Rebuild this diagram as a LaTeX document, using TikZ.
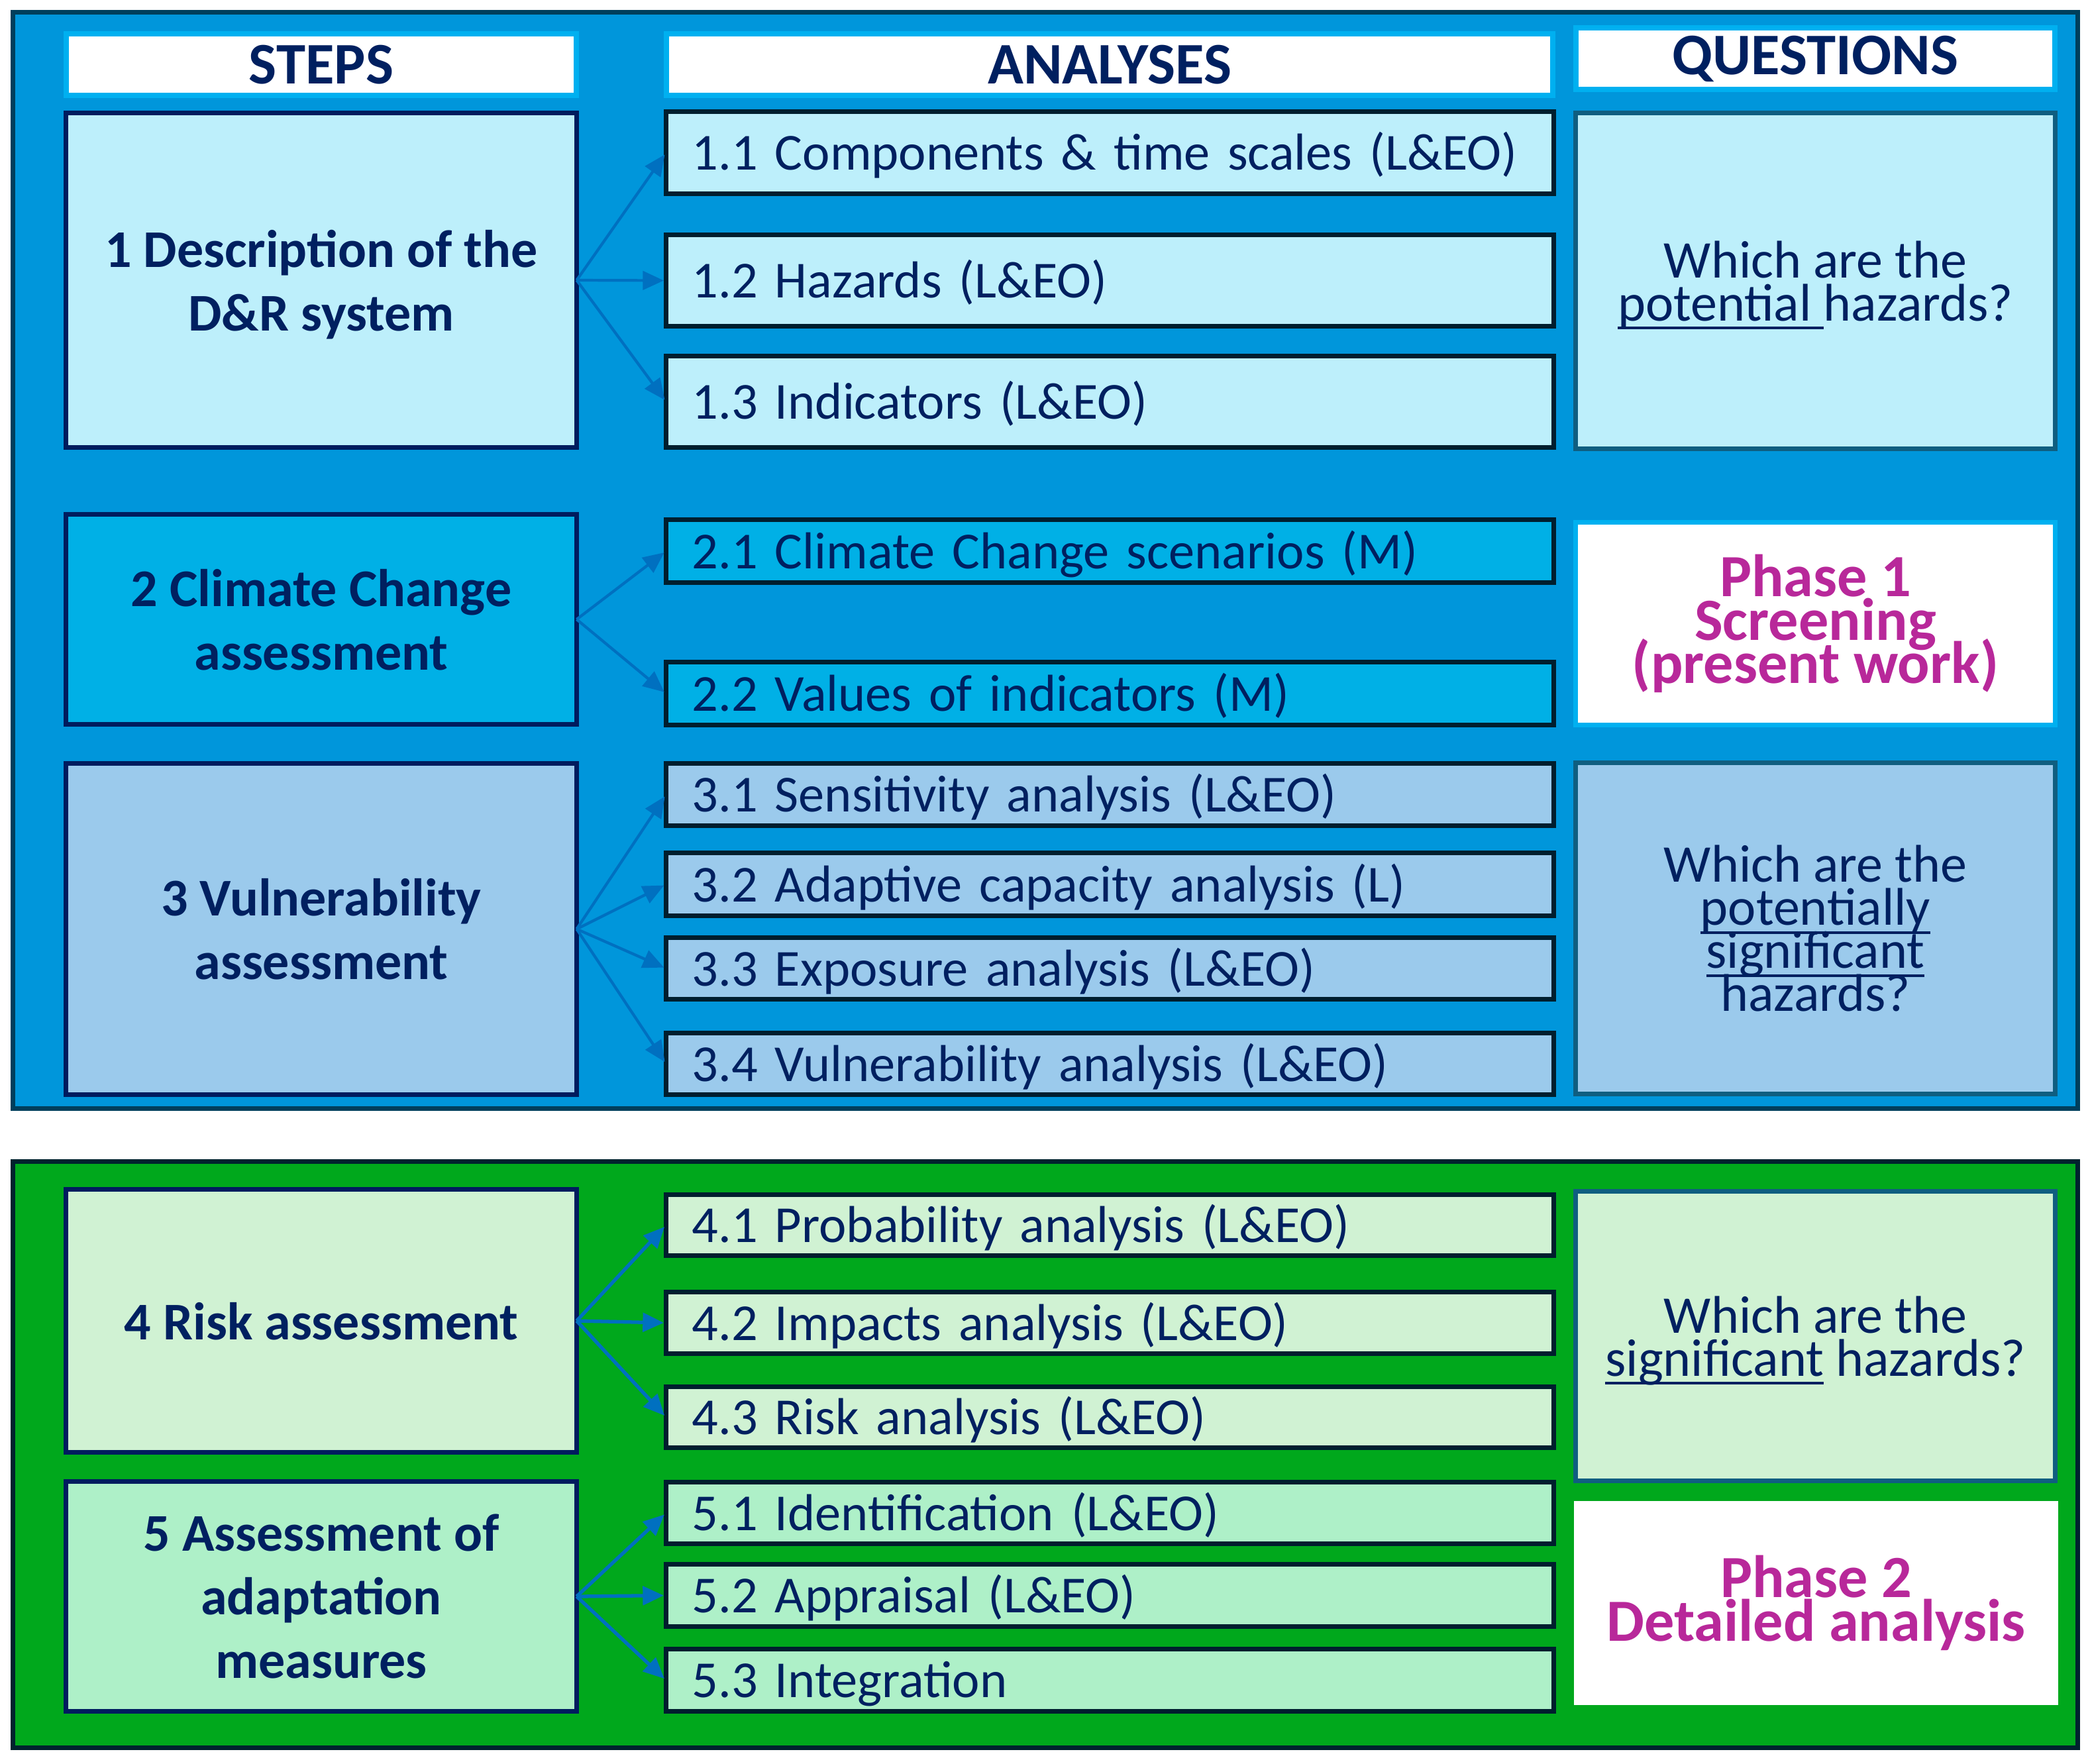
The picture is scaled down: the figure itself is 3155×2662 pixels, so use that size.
\documentclass[tikz,border=0pt]{standalone}
\usepackage{fontspec}
\setmainfont{Carlito}
\usetikzlibrary{arrows.meta}
\definecolor{bgblue}{HTML}{0096DB}
\definecolor{bdblue}{HTML}{003F5C}
\definecolor{cyanbd}{HTML}{00B0F0}
\definecolor{cone}{HTML}{BDEFFB}
\definecolor{ctwo}{HTML}{00B0E6}
\definecolor{cthree}{HTML}{9BCAEC}
\definecolor{navybd}{HTML}{001C5E}
\definecolor{anbd}{HTML}{001E2E}
\definecolor{qbd}{HTML}{0F5E80}
\definecolor{bggreen}{HTML}{00A81C}
\definecolor{bdgreen}{HTML}{00222E}
\definecolor{cfour}{HTML}{D0F2D3}
\definecolor{cfive}{HTML}{AEF0C8}
\definecolor{txtc}{HTML}{002060}
\definecolor{magc}{HTML}{B8289A}
\definecolor{arrc}{HTML}{0070C0}
\newcommand\anfont{\fontsize{22.3pt}{27.3pt}\selectfont}
\newcommand\stepfont{\bfseries\fontsize{22.76pt}{27.3pt}\selectfont\lineskiplimit=-50pt}
\newcommand\qfont{\fontsize{22.76pt}{18.5pt}\selectfont\lineskiplimit=-50pt}
\newcommand\hdrfont{\bfseries\fontsize{25.3pt}{30pt}\selectfont}
\newcommand\phfont{\bfseries\fontsize{25.7pt}{18.7pt}\selectfont\lineskiplimit=-50pt}
\newcommand\myul[1]{\leavevmode\setbox0\hbox{#1}\rlap{\rule[-3.65pt]{\wd0}{1.1pt}}\box0\relax}
% name, style, x1, y1, x2, y2, text
\newcommand\bx[7]{\node[#2, anchor=north west, minimum width={(#5-#3)*0.01cm}, minimum height={(#6-#4)*0.01cm}] (#1) at (#3,#4) {#7};}
\tikzset{
  panel/.style={line width=2pt, inner sep=0pt, outer sep=0pt},
  hdr/.style={fill=white, draw=cyanbd, line width=2.2pt, inner sep=0pt, outer sep=0pt, font=\hdrfont, text=txtc},
  stepbox/.style={draw=navybd, line width=2pt, inner sep=0pt, outer sep=0pt, align=center, text depth=0pt, font=\stepfont, text=txtc},
  anbox/.style={draw=anbd, line width=2pt, inner xsep=0.39cm, inner ysep=0pt, outer sep=0pt, text width=12.61cm, align=left, text height=0.52cm, text depth=0pt, font=\anfont, text=txtc},
  qbox/.style={draw=qbd, line width=2pt, inner sep=0pt, outer sep=0pt, align=center, text depth=0pt, font=\qfont, text=txtc},
  phbox/.style={fill=white, inner sep=0pt, outer sep=0pt, align=center, font=\phfont, text=magc},
  conn/.style={draw=arrc, line width=1.2pt, shorten >=1pt, -{Triangle[length=9pt,width=8pt]}},
  conng/.style={conn, line width=1.5pt}
}
\begin{document}
\begin{tikzpicture}[x=0.01cm, y=-0.01cm]
\useasboundingbox (0,0) rectangle (3155,2662);
\fill[white] (0,0) rectangle (3155,2662);
% panels
\bx{pblue}{panel, fill=bgblue, draw=bdblue}{19.5}{18.5}{3136.5}{1673.5}{}
\bx{pgreen}{panel, fill=bggreen, draw=bdgreen}{19.5}{1753.5}{3136.5}{2638.5}{}
% headers
\bx{hsteps}{hdr}{100}{51}{870}{144}{STEPS}
\bx{hanal}{hdr}{1006}{51}{2344}{144}{ANALYSES}
\bx{hquest}{hdr}{2379}{42}{3102}{135}{QUESTIONS}
% steps
\bx{s1}{stepbox, fill=cone}{99.5}{170.5}{870.5}{675.5}{1 Description of the\\D\&R system}
\bx{s2}{stepbox, fill=ctwo}{99.5}{776.5}{870.5}{1093.5}{2 Climate Change\\assessment}
\bx{s3}{stepbox, fill=cthree}{99.5}{1152.5}{870.5}{1652.5}{3 Vulnerability\\assessment}
\bx{s4}{stepbox, fill=cfour}{99.5}{1795.5}{870.5}{2192.5}{4 Risk assessment}
\bx{s5}{stepbox, fill=cfive}{99.5}{2236.5}{870.5}{2583.5}{5 Assessment of\\adaptation\\measures}
% analyses
\bx{a11}{anbox, fill=cone}{1005.5}{168.5}{2344.5}{292.5}{1.1 Components \& time scales (L\&EO)}
\bx{a12}{anbox, fill=cone}{1005.5}{354.5}{2344.5}{492.5}{1.2 Hazards (L\&EO)}
\bx{a13}{anbox, fill=cone}{1005.5}{537.5}{2344.5}{675.5}{1.3 Indicators (L\&EO)}
\bx{a21}{anbox, fill=ctwo}{1005.5}{784.5}{2344.5}{879.5}{2.1 Climate Change scenarios (M)}
\bx{a22}{anbox, fill=ctwo}{1005.5}{999.5}{2344.5}{1094.5}{2.2 Values of indicators (M)}
\bx{a31}{anbox, fill=cthree}{1005.5}{1152.5}{2344.5}{1246.5}{3.1 Sensitivity analysis (L\&EO)}
\bx{a32}{anbox, fill=cthree}{1005.5}{1287.5}{2344.5}{1382.5}{3.2 Adaptive capacity analysis (L)}
\bx{a33}{anbox, fill=cthree}{1005.5}{1415.5}{2344.5}{1508.5}{3.3 Exposure analysis (L\&EO)}
\bx{a34}{anbox, fill=cthree}{1005.5}{1559.5}{2344.5}{1652.5}{3.4 Vulnerability analysis (L\&EO)}
\bx{a41}{anbox, fill=cfour}{1005.5}{1803.5}{2344.5}{1895.5}{4.1 Probability analysis (L\&EO)}
\bx{a42}{anbox, fill=cfour}{1005.5}{1950.5}{2344.5}{2043.5}{4.2 Impacts analysis (L\&EO)}
\bx{a43}{anbox, fill=cfour}{1005.5}{2093.5}{2344.5}{2185.5}{4.3 Risk analysis (L\&EO)}
\bx{a51}{anbox, fill=cfive}{1005.5}{2237.5}{2344.5}{2330.5}{5.1 Identification (L\&EO)}
\bx{a52}{anbox, fill=cfive}{1005.5}{2361.5}{2344.5}{2455.5}{5.2 Appraisal (L\&EO)}
\bx{a53}{anbox, fill=cfive}{1005.5}{2489.5}{2344.5}{2583.5}{5.3 Integration}
% questions
\bx{q1}{qbox, fill=cone}{2378.5}{170.5}{3102.5}{677.5}{Which are the\\\myul{potential\ }hazards?}
\bx{ph1}{phbox, draw=cyanbd, line width=2.2pt}{2378.5}{788.5}{3102.5}{1094.5}{Phase 1\\Screening\\(present work)}
\bx{q2}{qbox, fill=cthree}{2378.5}{1151.5}{3102.5}{1651.5}{Which are the\\\myul{potentially}\\\myul{significant}\\hazards?}
\bx{q3}{qbox, fill=cfour}{2378.5}{1798.5}{3102.5}{2235.5}{Which are the\\\myul{significant} hazards?}
\bx{ph2}{phbox}{2376}{2266}{3107}{2574}{Phase 2\\Detailed analysis}
% connectors
\foreach \t in {a11,a12,a13} \draw[conn] (s1.east) -- (\t.west);
\foreach \t in {a21,a22} \draw[conn] (s2.east) -- (\t.west);
\foreach \t in {a31,a32,a33,a34} \draw[conn] (s3.east) -- (\t.west);
\foreach \t in {a41,a42,a43} \draw[conng] (s4.east) -- (\t.west);
\foreach \t in {a51,a52,a53} \draw[conng] (s5.east) -- (\t.west);
\end{tikzpicture}
\end{document}
